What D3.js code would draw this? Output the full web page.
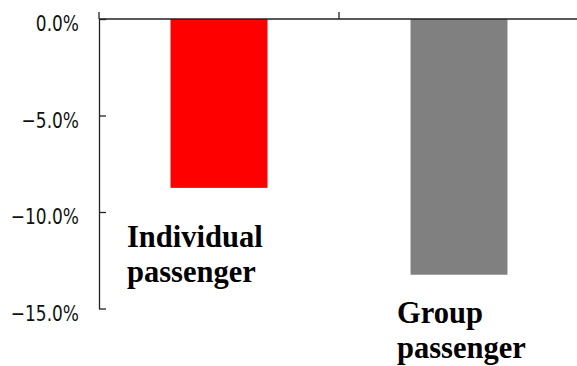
<!DOCTYPE html>
<html>
<head>
<meta charset="utf-8">
<script src="https://cdn.jsdelivr.net/npm/d3@7"></script>
<style>
  html, body { margin: 0; padding: 0; background: #fff; }
  svg { display: block; }
  .ytick text { font-family: "DejaVu Sans Condensed", "DejaVu Sans", sans-serif; font-stretch: condensed; font-size: 21px; fill: #111; }
  .cat-label { font-family: "Liberation Serif", "Times New Roman", serif; font-weight: bold; font-size: 30.5px; fill: #000; }
</style>
</head>
<body>
<script>
// Change in passenger numbers by passenger type (%)
const categories = ["Individual passenger", "Group passenger"];
const changes = [-8.75, -13.25];
const yTicks = [0, -5, -10, -15];
const barColors = ["#ff0000", "#808080"];

// Category labels are wrapped onto two lines under each bar
const labelLines = [["Individual", "passenger"], ["Group", "passenger"]];
const labelPos = [{ dx: 28, y: 247 }, { dx: 58, y: 323 }];

const W = 577, H = 366;
const svg = d3.select("body").append("svg").attr("width", W).attr("height", H);

const x = d3.scaleBand().domain(categories).range([99, 579]).padding(0);
const y = d3.scaleLinear().domain([-15, 0]).range([308.5, 19]);

const axisColor = "#222";

// Bars hang down from the zero line
const barFrac = 0.404;
svg.append("g").selectAll("rect")
  .data(categories)
  .join("rect")
  .attr("x", d => x(d) + x.bandwidth() * (1 - barFrac) / 2)
  .attr("width", x.bandwidth() * barFrac)
  .attr("y", y(0))
  .attr("height", (d, i) => y(changes[i]) - y(0))
  .attr("fill", (d, i) => barColors[i]);

// Value axis with inward ticks and narrow labels on the left
const squeeze = 0.9;
const yAxis = d3.axisLeft(y)
  .tickValues(yTicks)
  .tickSizeInner(-7)
  .tickSizeOuter(0)
  .tickPadding(20)
  .tickFormat(d => d3.format(".1f")(d) + "%");
const gy = svg.append("g").attr("class", "ytick").attr("transform", "translate(99,0)").call(yAxis);
gy.select(".domain").attr("stroke", axisColor).attr("stroke-width", 1.3);
gy.selectAll(".tick line").attr("stroke", axisColor).attr("stroke-width", 1.3);
gy.selectAll(".tick text")
  .attr("x", -20 / squeeze)
  .attr("dy", "0.55em")
  .attr("transform", `scale(${squeeze},1)`);

// Category axis along the zero line with ticks between categories
const gx = svg.append("g");
gx.append("line")
  .attr("x1", x.range()[0]).attr("x2", x.range()[1])
  .attr("y1", y(0)).attr("y2", y(0))
  .attr("stroke", axisColor).attr("stroke-width", 1.3);
const boundaries = categories.map(c => x(c)).concat([x.range()[1]]);
gx.selectAll("line.cat-tick")
  .data(boundaries)
  .join("line")
  .attr("class", "cat-tick")
  .attr("x1", d => d).attr("x2", d => d)
  .attr("y1", y(0)).attr("y2", y(0) - 7)
  .attr("stroke", axisColor).attr("stroke-width", 1.3);

// Category labels
const labels = svg.append("g").selectAll("text")
  .data(categories)
  .join("text")
  .attr("class", "cat-label")
  .attr("x", (d, i) => x(d) + labelPos[i].dx)
  .attr("y", (d, i) => labelPos[i].y);
labels.each(function(d, i) {
  const t = d3.select(this);
  labelLines[i].forEach((line, j) => {
    t.append("tspan")
      .attr("x", x(d) + labelPos[i].dx)
      .attr("dy", j === 0 ? 0 : 34.5)
      .text(line);
  });
});
</script>
</body>
</html>
